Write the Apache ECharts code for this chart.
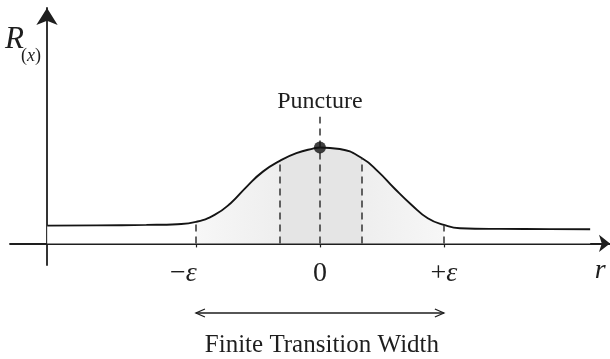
<!DOCTYPE html>
<html>
<head>
<meta charset="utf-8">
<script src="https://cdn.jsdelivr.net/npm/echarts@6/dist/echarts.min.js"></script>
<style>
  html, body { margin: 0; padding: 0; background: #ffffff; }
  #chart { width: 610px; height: 359px; }
</style>
</head>
<body>
<div id="chart"></div>
<script>
// Radial profile R(x) across the puncture; r measured in units of ε
const rValues = [-2.2, -1.8, -1.4, -1.15, -1.0, -0.85, -0.72, -0.59, -0.46, -0.32, -0.19, -0.05, 0,
                 0.16, 0.34, 0.47, 0.6, 0.74, 0.87, 1.0, 1.13, 1.45, 1.85, 2.18];
const profile = [0.185, 0.188, 0.193, 0.2, 0.224, 0.297, 0.419, 0.592, 0.748, 0.862, 0.94, 0.99, 1.0,
                 0.984, 0.887, 0.748, 0.575, 0.401, 0.262, 0.193, 0.158, 0.151, 0.149, 0.148];

// Tick positions and their labels on the r axis
const tickValues = [-1, 0, 1];
const tickLabels = ['{n|−}{e|ε}{pad|}', '{n|0}', '{n|+}{e|ε}'];

// Edges of the transition band and of its inner core
const bandEdges = [-1, 1];
const coreEdges = [-0.32, 0.34];
const punctureR = 0;
const punctureLineTop = 1.32;

const SERIF = '"Liberation Serif", "Times New Roman", serif';
const INK = '#1e1e1e';

const at = r => profile[rValues.indexOf(r)];
const pairs = rValues.map((r, i) => [r, profile[i]]);

// Shading: white outside the band, pale inside, slightly darker in the core
const rMin = rValues[0], rMax = rValues[rValues.length - 1];
const frac = r => (r - rMin) / (rMax - rMin);
const areaFill = new echarts.graphic.LinearGradient(0, 0, 1, 0, [
  { offset: 0, color: '#ffffff' },
  { offset: frac(bandEdges[0]), color: '#ffffff' },
  { offset: frac(bandEdges[0]), color: '#f7f7f7' },
  { offset: frac(coreEdges[0]), color: '#eeeeee' },
  { offset: frac(coreEdges[0]), color: '#e5e5e5' },
  { offset: frac(coreEdges[1]), color: '#e5e5e5' },
  { offset: frac(coreEdges[1]), color: '#eeeeee' },
  { offset: frac(bandEdges[1]), color: '#f7f7f7' },
  { offset: frac(bandEdges[1]), color: '#ffffff' },
  { offset: 1, color: '#ffffff' }
]);

const dashed = r => [{ coord: [r, 0] }, { coord: [r, at(r)] }];

const chart = echarts.init(document.getElementById('chart'), null, { renderer: 'canvas' });

chart.setOption({
  animation: false,
  backgroundColor: '#ffffff',
  grid: { left: 10, right: 0, top: 8, bottom: 94, containLabel: false },
  xAxis: {
    type: 'value',
    min: -2.5,
    max: 2.34,
    splitLine: { show: false },
    axisLine: {
      onZero: true,
      symbol: ['none', 'arrow'],
      symbolSize: [13, 11],
      lineStyle: { color: INK, width: 1.8 }
    },
    axisTick: {
      show: true,
      customValues: tickValues,
      length: 4,
      lineStyle: { color: INK, width: 1.2 }
    },
    axisLabel: {
      show: true,
      customValues: tickValues,
      margin: -5,
      formatter: v => tickLabels[tickValues.indexOf(v)],
      rich: {
        n: { fontFamily: SERIF, fontSize: 28, color: INK },
        e: { fontFamily: SERIF, fontSize: 28, fontStyle: 'italic', color: INK },
        pad: { width: 25 }
      }
    }
  },
  yAxis: {
    type: 'value',
    min: -0.225,
    max: 2.453,
    offset: -37,
    splitLine: { show: false },
    axisTick: { show: false },
    axisLabel: { show: false },
    axisLine: {
      onZero: false,
      symbol: ['none', 'arrow'],
      symbolSize: [16, 17],
      lineStyle: { color: INK, width: 1.8 }
    }
  },
  series: [
    {
      type: 'line',
      data: pairs,
      smooth: 0.5,
      symbol: 'none',
      lineStyle: { color: '#141414', width: 1.9 },
      areaStyle: { color: areaFill, opacity: 1 },
      z: 2,
      markLine: {
        silent: true,
        symbol: ['none', 'none'],
        label: { show: false },
        lineStyle: { type: [7, 5], color: '#333333', width: 1.5 },
        data: [
          dashed(bandEdges[0]),
          dashed(bandEdges[1]),
          dashed(coreEdges[0]),
          dashed(coreEdges[1]),
          [{ coord: [punctureR, 0] }, { coord: [punctureR, punctureLineTop] }]
        ]
      }
    },
    {
      type: 'scatter',
      data: [[punctureR, at(punctureR)]],
      symbolSize: 12,
      itemStyle: { color: '#111111' },
      z: 5
    }
  ]
});

// Annotations placed through the axis scales
const px = r => chart.convertToPixel({ xAxisIndex: 0 }, r);
const py = v => chart.convertToPixel({ yAxisIndex: 0 }, v);
const xl = px(bandEdges[0]);
const xr = px(bandEdges[1]);
const x0 = px(punctureR);
const arrowY = 313;

chart.setOption({
  graphic: [
    {
      type: 'text', x: 5, y: 40,
      style: { text: 'R', font: 'italic 31px ' + SERIF, fill: INK, align: 'left', verticalAlign: 'middle' }
    },
    {
      type: 'text', x: 21, y: 56,
      style: {
        text: '{p|(}{i|x}{p|)}', align: 'left', verticalAlign: 'middle',
        rich: {
          p: { fontFamily: SERIF, fontSize: 18, fill: INK },
          i: { fontFamily: SERIF, fontSize: 18, fontStyle: 'italic', fill: INK }
        }
      }
    },
    {
      type: 'text', x: px(2.26), y: py(0) + 27,
      style: { text: 'r', font: 'italic 28px ' + SERIF, fill: INK, align: 'center', verticalAlign: 'middle' }
    },
    {
      type: 'text', x: x0, y: 102,
      style: { text: 'Puncture', font: '24px ' + SERIF, fill: INK, align: 'center', verticalAlign: 'middle' }
    },
    {
      type: 'line',
      shape: { x1: xl, y1: arrowY, x2: xr, y2: arrowY },
      style: { stroke: INK, lineWidth: 1.3 }
    },
    {
      type: 'polyline',
      shape: { points: [[xl + 9, arrowY - 4], [xl, arrowY], [xl + 9, arrowY + 4]] },
      style: { stroke: INK, fill: null, lineWidth: 1.3 }
    },
    {
      type: 'polyline',
      shape: { points: [[xr - 9, arrowY - 4], [xr, arrowY], [xr - 9, arrowY + 4]] },
      style: { stroke: INK, fill: null, lineWidth: 1.3 }
    },
    {
      type: 'text', x: (xl + xr) / 2 + 2, y: 345,
      style: { text: 'Finite Transition Width', font: '25px ' + SERIF, fill: INK, align: 'center', verticalAlign: 'middle' }
    }
  ]
});
</script>
</body>
</html>
